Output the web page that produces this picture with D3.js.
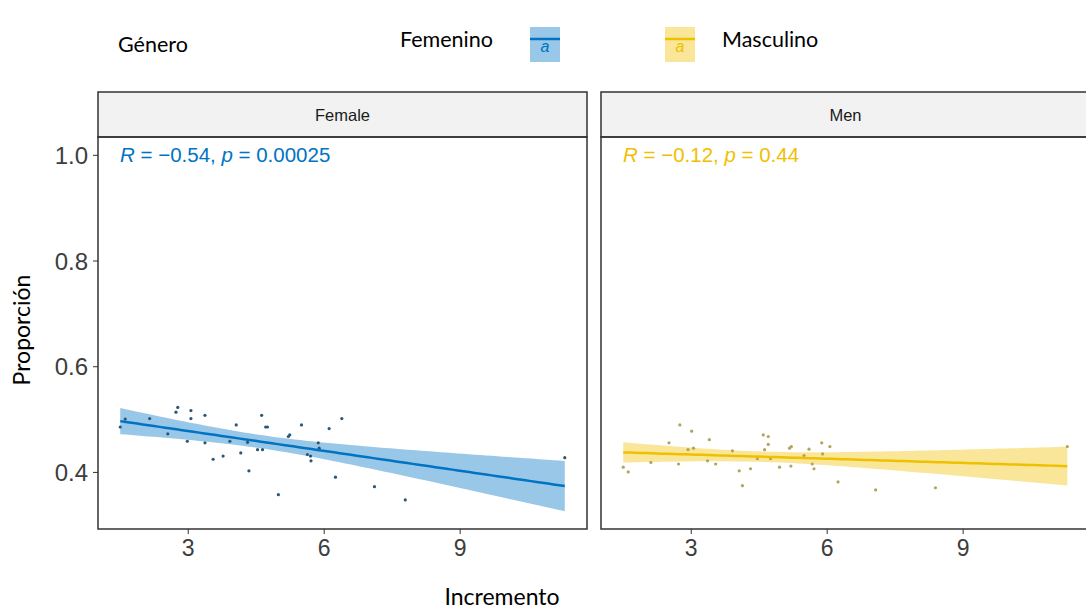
<!DOCTYPE html>
<html>
<head>
<meta charset="utf-8">
<script src="https://cdn.jsdelivr.net/npm/d3@7"></script>
<style>
  body { margin: 0; background: #fff; }
  svg { display: block; }
</style>
</head>
<body>
<div id="chart"></div>
<script>
// data
var femaleX = [1.51, 1.62, 2.16, 2.56, 2.74, 2.78, 2.99, 3.07, 3.07, 3.38, 3.38, 3.56, 3.78, 3.93,
  4.07, 4.17, 4.32, 4.35, 4.54, 4.63, 4.65, 4.72, 4.76, 5.00, 5.22, 5.25, 5.51, 5.64, 5.71, 5.72,
  5.88, 5.90, 6.12, 6.26, 6.40, 7.12, 7.80, 11.32];
var femaleY = [0.485, 0.500, 0.501, 0.472, 0.513, 0.522, 0.458, 0.516, 0.501, 0.507, 0.455, 0.424,
  0.430, 0.458, 0.489, 0.436, 0.456, 0.402, 0.442, 0.507, 0.442, 0.485, 0.485, 0.357, 0.467, 0.470,
  0.489, 0.433, 0.430, 0.421, 0.455, 0.445, 0.482, 0.390, 0.501, 0.372, 0.347, 0.427];

var menX = [1.51, 1.62, 2.12, 2.52, 2.73, 2.76, 2.94, 3.02, 3.06, 3.37, 3.41, 3.55, 3.92, 4.07,
  4.14, 4.32, 4.47, 4.60, 4.63, 4.71, 4.71, 4.76, 4.96, 5.18, 5.22, 5.21, 5.50, 5.61, 5.68, 5.72,
  5.89, 5.91, 6.07, 6.25, 7.08, 8.40, 11.31];
var menY = [0.409, 0.400, 0.418, 0.455, 0.415, 0.489, 0.442, 0.477, 0.445, 0.421, 0.461, 0.415,
  0.440, 0.402, 0.374, 0.406, 0.425, 0.470, 0.442, 0.467, 0.452, 0.425, 0.409, 0.445, 0.448, 0.411,
  0.431, 0.443, 0.415, 0.406, 0.455, 0.434, 0.448, 0.381, 0.366, 0.370, 0.448];

var panelNames = ["Female", "Men"];
var corrLabels = ["−0.54", "−0.12"];
var pLabels = ["0.00025", "0.44"];
var colors = ["#0073C2", "#EFC000"];
var pointColors = ["#2b5675", "#b3a45a"];
var legendNames = ["Femenino", "Masculino"];
var xTicks = [3, 6, 9];
var yTicks = [0.4, 0.6, 0.8, 1.0];

var W = 1086, H = 615;
var panelW = 489, panelTop = 137, panelBottom = 529, stripTop = 92;
var panelLeft = [98, 601];

var svg = d3.select("#chart").append("svg")
    .attr("width", W)
    .attr("height", H);

var groups = [
  { x: femaleX, y: femaleY },
  { x: menX, y: menY }
];

// lm fit + 95% band like geom_smooth(method = "lm")
function fitLm(xs, ys) {
  var n = xs.length,
      mx = d3.mean(xs), my = d3.mean(ys),
      sxx = d3.sum(xs, function(v) { return (v - mx) * (v - mx); }),
      sxy = d3.sum(xs, function(v, i) { return (v - mx) * (ys[i] - my); }),
      b = sxy / sxx, a = my - b * mx,
      sse = d3.sum(xs, function(v, i) { var r = ys[i] - (a + b * v); return r * r; }),
      s = Math.sqrt(sse / (n - 2)),
      t = 2.025;
  var ext = d3.extent(xs);
  return d3.range(80).map(function(i) {
    var xv = ext[0] + (ext[1] - ext[0]) * i / 79,
        yv = a + b * xv,
        se = s * Math.sqrt(1 / n + (xv - mx) * (xv - mx) / sxx);
    return { x: xv, y: yv, lo: yv - t * se, hi: yv + t * se };
  });
}

groups.forEach(function(g) { g.fit = fitLm(g.x, g.y); });

// shared scales (facets share axes), 5% expansion like ggplot
var allX = femaleX.concat(menX);
var xr = d3.extent(allX), xpad = (xr[1] - xr[0]) * 0.05;
var ymin = d3.min(groups, function(g) { return Math.min(d3.min(g.y), d3.min(g.fit, function(d) { return d.lo; })); });
var ymax = 1.0;
var ypad = (ymax - ymin) * 0.05;

var y = d3.scaleLinear().domain([ymin - ypad, ymax + ypad]).range([panelBottom, panelTop]);

groups.forEach(function(g, k) {
  var x = d3.scaleLinear().domain([xr[0] - xpad, xr[1] + xpad]).range([0, panelW]);
  var p = svg.append("g").attr("transform", "translate(" + panelLeft[k] + ",0)");

  // strip
  p.append("rect")
      .attr("x", 0).attr("y", stripTop)
      .attr("width", panelW).attr("height", panelTop - stripTop)
      .style("fill", "#f2f2f2")
      .style("stroke", "#333").style("stroke-width", 1.5);
  p.append("text")
      .attr("x", panelW / 2).attr("y", (stripTop + panelTop) / 2 + 6)
      .attr("text-anchor", "middle")
      .style("font-family", "Liberation Sans, Arial, sans-serif")
      .style("font-size", "16.5px")
      .style("fill", "#1a1a1a")
      .text(panelNames[k]);

  // ribbon
  p.append("path")
      .datum(g.fit)
      .attr("d", d3.area()
          .x(function(d) { return x(d.x); })
          .y0(function(d) { return y(d.lo); })
          .y1(function(d) { return y(d.hi); }))
      .style("fill", colors[k])
      .style("opacity", 0.4);

  // points
  p.selectAll("circle.pt")
      .data(g.x)
    .enter().append("circle")
      .attr("class", "pt")
      .attr("cx", function(d) { return x(d); })
      .attr("cy", function(d, i) { return y(g.y[i]); })
      .attr("r", 1.6)
      .style("fill", pointColors[k]);

  // fit line
  p.append("path")
      .datum(g.fit)
      .attr("d", d3.line()
          .x(function(d) { return x(d.x); })
          .y(function(d) { return y(d.y); }))
      .style("fill", "none")
      .style("stroke", colors[k])
      .style("stroke-width", 2.5);

  // R / p label
  var lab = p.append("text")
      .attr("x", 22).attr("y", y(1.0) + 7)
      .style("font-family", "Liberation Sans, Arial, sans-serif")
      .style("font-size", "20.5px")
      .style("fill", colors[k]);
  lab.append("tspan").style("font-style", "italic").text("R");
  lab.append("tspan").text(" = " + corrLabels[k] + ", ");
  lab.append("tspan").style("font-style", "italic").text("p");
  lab.append("tspan").text(" = " + pLabels[k]);

  // panel border
  p.append("rect")
      .attr("x", 0).attr("y", panelTop)
      .attr("width", panelW).attr("height", panelBottom - panelTop)
      .style("fill", "none")
      .style("stroke", "#333").style("stroke-width", 1.5);

  // x axis
  var xa = p.append("g")
      .attr("transform", "translate(0," + panelBottom + ")")
      .call(d3.axisBottom(x).tickValues(xTicks).tickSize(5).tickPadding(6));
  xa.select(".domain").remove();
  xa.selectAll("line").style("stroke", "#333");
  xa.selectAll("text")
      .style("font-family", "Liberation Sans, Arial, sans-serif")
      .style("font-size", "23px")
      .style("fill", "#3d3d3d");

  if (k === 0) {
    var ya = p.append("g")
        .call(d3.axisLeft(y).tickValues(yTicks).tickFormat(d3.format(".1f")).tickSize(5).tickPadding(5));
    ya.select(".domain").remove();
    ya.selectAll("line").style("stroke", "#333");
    ya.selectAll("text")
        .attr("dy", "0.36em")
        .style("font-family", "Liberation Sans, Arial, sans-serif")
        .style("font-size", "24px")
        .style("fill", "#3d3d3d");
  }
});

// axis titles
svg.append("text")
    .attr("x", 502).attr("y", 605)
    .attr("text-anchor", "middle")
    .style("font-family", "Lato, sans-serif")
    .style("font-size", "23px")
    .style("fill", "#000")
    .text("Incremento");

svg.append("text")
    .attr("transform", "translate(30,330) rotate(-90)")
    .attr("text-anchor", "middle")
    .style("font-family", "Lato, sans-serif")
    .style("font-size", "23px")
    .style("fill", "#000")
    .text("Proporción");

// legend
svg.append("text")
    .attr("x", 118).attr("y", 52)
    .style("font-family", "Lato, sans-serif")
    .style("font-size", "21.5px")
    .text("Género");

var legX = [400, 722], keyX = [530, 665];
legendNames.forEach(function(name, k) {
  svg.append("text")
      .attr("x", legX[k]).attr("y", 47)
      .style("font-family", "Lato, sans-serif")
      .style("font-size", "21.5px")
      .text(name);
  var key = svg.append("g").attr("transform", "translate(" + keyX[k] + ",27)");
  key.append("rect")
      .attr("width", 30).attr("height", 35)
      .style("fill", colors[k]).style("opacity", 0.4);
  key.append("line")
      .attr("x1", 0).attr("x2", 30).attr("y1", 12).attr("y2", 12)
      .style("stroke", colors[k]).style("stroke-width", 2.5);
  key.append("text")
      .attr("x", 15).attr("y", 25)
      .attr("text-anchor", "middle")
      .style("font-family", "Liberation Sans, Arial, sans-serif")
      .style("font-style", "italic")
      .style("font-size", "16px")
      .style("fill", colors[k])
      .text("a");
});
</script>
</body>
</html>
